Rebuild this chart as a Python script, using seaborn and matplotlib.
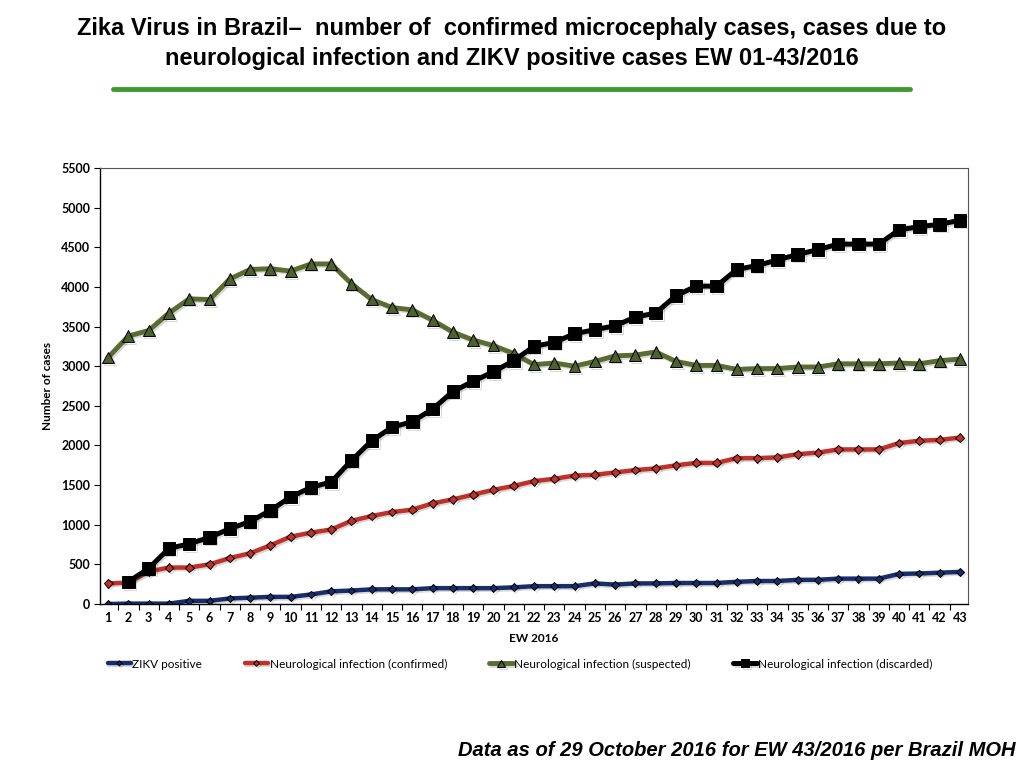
import numpy as np
import pandas as pd
import matplotlib
matplotlib.use("Agg")
import matplotlib.pyplot as plt
import matplotlib.patheffects as pe
import seaborn as sns

# Epidemiological weeks 1-43 of 2016
weeks = list(range(1, 44))

zikv_positive = [0, 5, 5, 5, 40, 40, 70, 80, 90, 90, 120, 160, 170, 185, 185, 185, 200, 200,
                 200, 200, 210, 225, 225, 225, 260, 245, 260, 260, 265, 265, 265, 280, 290, 290,
                 305, 305, 320, 320, 320, 380, 385, 395, 405]
neuro_confirmed = [260, 270, 410, 460, 460, 500, 580, 640, 740, 850, 900, 940, 1050, 1110, 1160,
                   1190, 1270, 1320, 1380, 1440, 1490, 1550, 1580, 1620, 1630, 1660, 1690, 1710,
                   1750, 1780, 1780, 1840, 1840, 1850, 1890, 1910, 1950, 1950, 1950, 2030, 2060,
                   2070, 2100]
neuro_suspected = [3110, 3380, 3450, 3670, 3850, 3840, 4100, 4220, 4230, 4200, 4290, 4290, 4040,
                   3840, 3740, 3710, 3580, 3430, 3330, 3260, 3160, 3020, 3040, 3000, 3060, 3130,
                   3140, 3180, 3060, 3010, 3010, 2960, 2970, 2970, 2990, 2990, 3030, 3030, 3030,
                   3040, 3030, 3070, 3090]
neuro_discarded = [np.nan, 280, 450, 700, 760, 840, 950, 1040, 1180, 1350, 1470, 1540, 1810, 2060,
                   2230, 2300, 2460, 2680, 2810, 2930, 3070, 3250, 3300, 3410, 3460, 3510, 3620,
                   3670, 3890, 4010, 4010, 4220, 4270, 4340, 4410, 4470, 4540, 4540, 4540, 4720,
                   4760, 4790, 4840]

series_names = ["ZIKV positive", "Neurological infection (confirmed)",
                "Neurological infection (suspected)", "Neurological infection (discarded)"]
y_ticks = list(range(0, 5501, 500))

df = pd.DataFrame({
    "EW": weeks,
    series_names[0]: zikv_positive,
    series_names[1]: neuro_confirmed,
    series_names[2]: neuro_suspected,
    series_names[3]: neuro_discarded,
})

sns.set_style("white")
plt.rcParams["font.family"] = ["Lato", "DejaVu Sans"]
plt.rcParams["text.color"] = "black"
plt.rcParams["axes.labelcolor"] = "black"
plt.rcParams["xtick.color"] = "black"
plt.rcParams["ytick.color"] = "black"

fig = plt.figure(figsize=(10.24, 7.68), dpi=100)
ax = fig.add_axes([100 / 1024, 1 - 604 / 768, 868 / 1024, 436 / 768])

# line colour, line width, marker, marker size, marker face
styles = {
    series_names[0]: ("#1a2d6b", 3.2, "D", 4, "#1a2d6b"),
    series_names[1]: ("#c0312a", 3.2, "D", 4.5, "#c0312a"),
    series_names[2]: ("#5b6c33", 3.5, "^", 8.5, "#4f6030"),
    series_names[3]: ("#000000", 3.6, "s", 9, "#000000"),
}
shadow = [pe.SimpleLineShadow(offset=(1.2, -1.2), alpha=0.15), pe.Normal()]

for name in series_names:
    color, lw, marker, ms, face = styles[name]
    sns.lineplot(data=df, x="EW", y=name, ax=ax, color=color, linewidth=lw,
                 marker=marker, markersize=ms, markerfacecolor=face,
                 markeredgecolor="black", markeredgewidth=0.7, label=name,
                 path_effects=shadow)

ax.set_xlim(0.6, 43.4)
ax.set_ylim(0, 5500)
ax.set_yticks(y_ticks)
ax.set_xticks(weeks)
ax.set_xticks([w + 0.5 for w in weeks[:-1]], minor=True)
ax.tick_params(axis="x", which="major", length=0, pad=6, labelsize=9)
ax.tick_params(axis="x", which="minor", length=4, width=0.8, color="black", direction="out")
ax.tick_params(axis="y", length=4, width=0.8, color="black", direction="out", labelsize=9, pad=3)
ax.tick_params(bottom=True, left=True, which="both")
for lbl in ax.get_xticklabels() + ax.get_yticklabels():
    lbl.set_fontweight("bold")

for side in ["left", "bottom"]:
    ax.spines[side].set_color("black")
    ax.spines[side].set_linewidth(1.0)
for side in ["top", "right"]:
    ax.spines[side].set_color("#555555")
    ax.spines[side].set_linewidth(0.8)

ax.set_xlabel("EW 2016", fontsize=8.5, fontweight="bold", labelpad=6)
ax.set_ylabel("Number of cases", fontsize=8.5, fontweight="bold", labelpad=6)

ax.legend(loc="center", bbox_to_anchor=(520 / 1024, 1 - 664 / 768),
          bbox_transform=fig.transFigure, ncol=4, frameon=False, fontsize=8.5,
          handlelength=2.0, handletextpad=0.1, columnspacing=3.6, markerscale=0.65)

fig.text(0.5, 1 - 28 / 768,
         "Zika Virus in Brazil\u2013  number of  confirmed microcephaly cases, cases due to",
         ha="center", va="center", fontsize=17, fontweight="bold", family="Liberation Sans")
fig.text(0.5, 1 - 58 / 768,
         "neurological infection and ZIKV positive cases EW 01-43/2016",
         ha="center", va="center", fontsize=17, fontweight="bold", family="Liberation Sans")
fig.add_artist(plt.Line2D([113 / 1024, 910 / 1024], [1 - 89 / 768, 1 - 89 / 768],
                          color="#3f9a2e", linewidth=3.5, transform=fig.transFigure))
fig.text(1015 / 1024, 1 - 750 / 768,
         "Data as of 29 October 2016 for EW 43/2016 per Brazil MOH",
         ha="right", va="center", fontsize=14.5, fontweight="bold", fontstyle="italic",
         family="Liberation Sans")

fig.savefig("out.png", dpi=100)
